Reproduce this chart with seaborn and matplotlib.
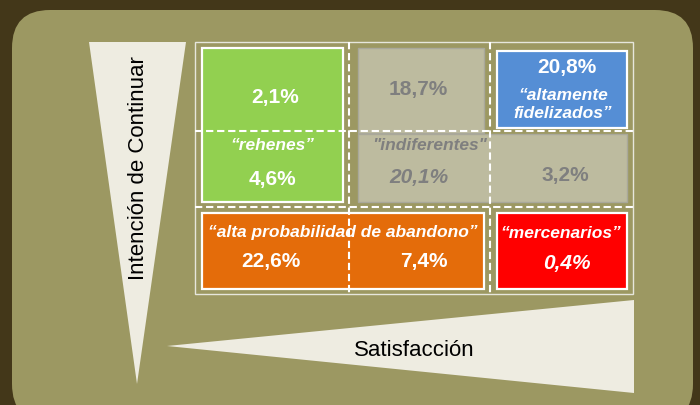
import numpy as np
import seaborn as sns
import matplotlib.pyplot as plt
from matplotlib.patches import Rectangle, Polygon, FancyBboxPatch

# ==========================================
# Data: share of clients per (satisfaction x continuation) cell
# ==========================================
row_names = ["alta", "media", "baja"]          # Intención de Continuar (top -> bottom)
col_names = ["baja", "media", "alta"]          # Satisfacción (left -> right)
shares = np.array([
    [2.1, 18.7, 20.8],
    [4.6, 20.1, 3.2],
    [22.6, 7.4, 0.4],
])
share_labels = [[f"{v:.1f}%".replace(".", ",") for v in row] for row in shares]

# segments: label, cells (row, col), colour
segment_labels = ["\u201crehenes\u201d", "\"indiferentes\"", "\u201caltamente\nfidelizados\u201d",
                  "\u201calta probabilidad de abandono\u201d", "\u201cmercenarios\u201d"]
segment_cells = [
    [(0, 0), (1, 0)],
    [(0, 1), (1, 1), (1, 2)],
    [(0, 2)],
    [(2, 0), (2, 1)],
    [(2, 2)],
]
segment_colors = ["#92d050", "#bdbb9f", "#558ed5", "#e46c0a", "#ff0000"]
italic_values = [(1, 1), (2, 2)]

y_axis_label = "Intención de Continuar"
x_axis_label = "Satisfacción"

# ==========================================
# Layout (pixel space)
# ==========================================
col_edges = [195, 349, 490, 633]
row_edges = [42, 131, 207, 294]
pad_l, pad_r, pad_t, pad_b = 7, 6, 6, 5

sns.set_theme(style="white")
plt.rcParams["font.family"] = ["Liberation Sans", "DejaVu Sans"]

fig = plt.figure(figsize=(7, 4.05), dpi=100, facecolor="#433719")
ax = fig.add_axes([0, 0, 1, 1])
ax.set_xlim(0, 700)
ax.set_ylim(405, 0)
ax.axis("off")

# background panel
ax.add_patch(FancyBboxPatch((12, 10), 681, 412, boxstyle="round,pad=0,rounding_size=38",
                            fc="#9c9862", ec="none", zorder=0))

# triangles
ax.add_patch(Polygon([(89, 42), (186, 42), (137, 384)], closed=True, fc="#eeece1", ec="none", zorder=1))
ax.add_patch(Polygon([(167, 346), (634, 300), (634, 393)], closed=True, fc="#eeece1", ec="none", zorder=1))
ax.text(138, 168, y_axis_label, rotation=90, ha="center", va="center", fontsize=16, color="black", zorder=2)
ax.text(414, 350, x_axis_label, ha="center", va="center", fontsize=16, color="black", zorder=2)

# outer frame
ax.add_patch(Rectangle((col_edges[0], row_edges[0]), col_edges[-1] - col_edges[0],
                       row_edges[-1] - row_edges[0], fc="none", ec="#e6e6dc", lw=1, zorder=2))


def cell_box(r, c):
    x0 = col_edges[c] + pad_l
    x1 = col_edges[c + 1] - pad_r
    y0 = row_edges[r] + pad_t
    y1 = row_edges[r + 1] - pad_b
    return x0, y0, x1, y1


# segment boxes
for label, cells, color in zip(segment_labels, segment_cells, segment_colors):
    is_gray = color == "#bdbb9f"
    ec = "#a9a89a" if is_gray else "white"
    if is_gray:
        # L shape: column 1 upper part + full middle row
        x0, y0, x1, y1 = cell_box(0, 1)
        ax.add_patch(Rectangle((x0 + 2, y0), x1 - x0 - 2, row_edges[1] + 2 - y0,
                               fc=color, ec=ec, lw=1, zorder=3))
        x0 = col_edges[1] + pad_l + 2
        x1 = col_edges[3] - pad_r
        y0 = row_edges[1] + 3
        y1 = row_edges[2] - pad_b
        ax.add_patch(Rectangle((x0, y0), x1 - x0, y1 - y0, fc=color, ec=ec, lw=1, zorder=3))
        continue
    boxes = [cell_box(r, c) for r, c in cells]
    x0 = min(b[0] for b in boxes)
    y0 = min(b[1] for b in boxes)
    x1 = max(b[2] for b in boxes)
    y1 = max(b[3] for b in boxes)
    if label.startswith("\u201caltamente"):
        y0 += 3
        y1 += 2
    ax.add_patch(Rectangle((x0, y0), x1 - x0, y1 - y0, fc=color, ec=ec, lw=1.6, zorder=3))

# dashed grid lines
dash = (0, (3.5, 1.8))
for x in col_edges[1:-1]:
    ax.plot([x, x], [row_edges[0], row_edges[-1]], color="white", lw=1.5, ls=dash, zorder=4)
for y in row_edges[1:-1]:
    ax.plot([col_edges[0], col_edges[-1]], [y, y], color="white", lw=1.5, ls=dash, zorder=4)

# value labels
value_pos = [
    [(275, 97), (418, 90), (567, 67)],
    [(272, 180), (419, 178), (565, 176)],
    [(271, 261), (424, 261), (567, 264)],
]
gray_cells = segment_cells[1]
for r in range(3):
    for c in range(3):
        x, y = value_pos[r][c]
        color = "#7f7f7f" if (r, c) in gray_cells else "white"
        style = "italic" if (r, c) in italic_values else "normal"
        ax.text(x, y, share_labels[r][c], ha="center", va="center", fontsize=15,
                fontweight="bold", fontstyle=style, color=color, zorder=5)

# segment labels
label_pos = [(272, 145), (430, 145), (563, 104), (343, 232), (561, 234)]
label_colors = ["white", "#7f7f7f", "white", "white", "white"]
for label, (x, y), color in zip(segment_labels, label_pos, label_colors):
    ax.text(x, y, label, ha="center", va="center", fontsize=12.5, fontweight="bold",
            fontstyle="italic", color=color, linespacing=1.25, zorder=5)

fig.savefig("out.png", dpi=100, facecolor=fig.get_facecolor())
